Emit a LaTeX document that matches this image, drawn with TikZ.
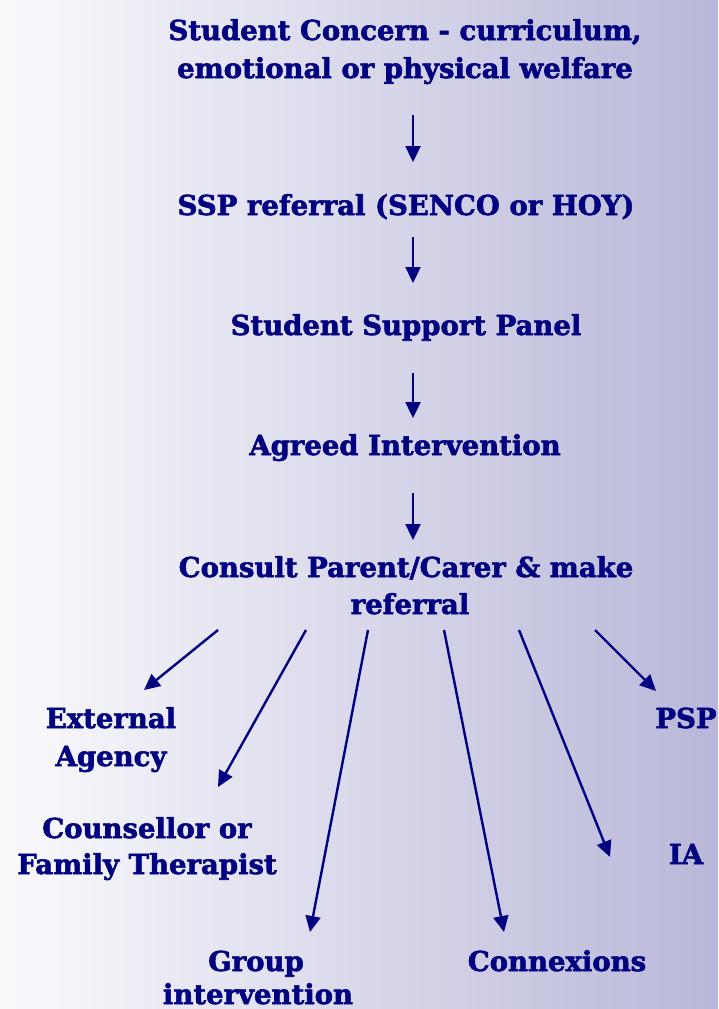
\documentclass[tikz,border=0pt]{standalone}
\usepackage{fontspec}
\setmainfont{DejaVu Serif}[BoldFeatures={FakeBold=2}]
\usetikzlibrary{arrows.meta}
\definecolor{navy}{HTML}{000080}
\definecolor{bgleft}{HTML}{FAFAFD}
\definecolor{bgmid}{HTML}{DEDEEC}
\definecolor{bgright}{HTML}{B8B7D8}
\begin{document}
\begin{tikzpicture}[x=1pt,y=-1pt,
  lbl/.style={font=\bfseries\fontsize{27.5}{32}\selectfont, text=navy, inner sep=0pt, anchor=base},
  arr/.style={draw=navy, line width=2.4pt, -{Triangle[length=16pt,width=15pt]}}]
\useasboundingbox (0,0) rectangle (718,1009);
\shade[left color=bgleft, middle color=bgmid, right color=bgright] (0,0) rectangle (718,1009);

% main chain
\node[lbl] (c1) at (405,40) {Student Concern - curriculum,};
\node[lbl] (c2) at (405,78) {emotional or physical welfare};
\node[lbl] (ssp) at (406,215) {SSP referral (SENCO or HOY)};
\node[lbl] (panel) at (406,335) {Student Support Panel};
\node[lbl] (agreed) at (405,455) {Agreed Intervention};
\node[lbl] (cons1) at (406,577) {Consult Parent/Carer \& make};
\node[lbl] (cons2) at (410,614) {referral};

% outcomes
\node[lbl] (ext1) at (111,728) {External};
\node[lbl] (ext2) at (111,766) {Agency};
\node[lbl] (cou1) at (147,838) {Counsellor or};
\node[lbl] (cou2) at (147,874) {Family Therapist};
\node[lbl] (grp1) at (256,971) {Group};
\node[lbl] (grp2) at (258,1004) {intervention};
\node[lbl] (cnx) at (557,971) {Connexions};
\node[lbl] (ia) at (686,864) {IA};
\node[lbl] (psp) at (686,728) {PSP};

% arrow end points
\coordinate (a1s) at (413,115); \coordinate (a1e) at (413,162);
\coordinate (a2s) at (413,237); \coordinate (a2e) at (413,283);
\coordinate (a3s) at (413,373); \coordinate (a3e) at (413,418);
\coordinate (a4s) at (413,493); \coordinate (a4e) at (413,540);
\draw[arr] (a1s) -- (a1e);
\draw[arr] (a2s) -- (a2e);
\draw[arr] (a3s) -- (a3e);
\draw[arr] (a4s) -- (a4e);

\coordinate (b1s) at (218,630); \coordinate (b1e) at (144,690);
\coordinate (b2s) at (306,630); \coordinate (b2e) at (218,787);
\coordinate (b3s) at (368,630); \coordinate (b3e) at (310,932);
\coordinate (b4s) at (444,630); \coordinate (b4e) at (504,932);
\coordinate (b5s) at (519,630); \coordinate (b5e) at (610,857);
\coordinate (b6s) at (595,630); \coordinate (b6e) at (656,691);
\draw[arr] (b1s) -- (b1e);
\draw[arr] (b2s) -- (b2e);
\draw[arr] (b3s) -- (b3e);
\draw[arr] (b4s) -- (b4e);
\draw[arr] (b5s) -- (b5e);
\draw[arr] (b6s) -- (b6e);
\end{tikzpicture}
\end{document}
